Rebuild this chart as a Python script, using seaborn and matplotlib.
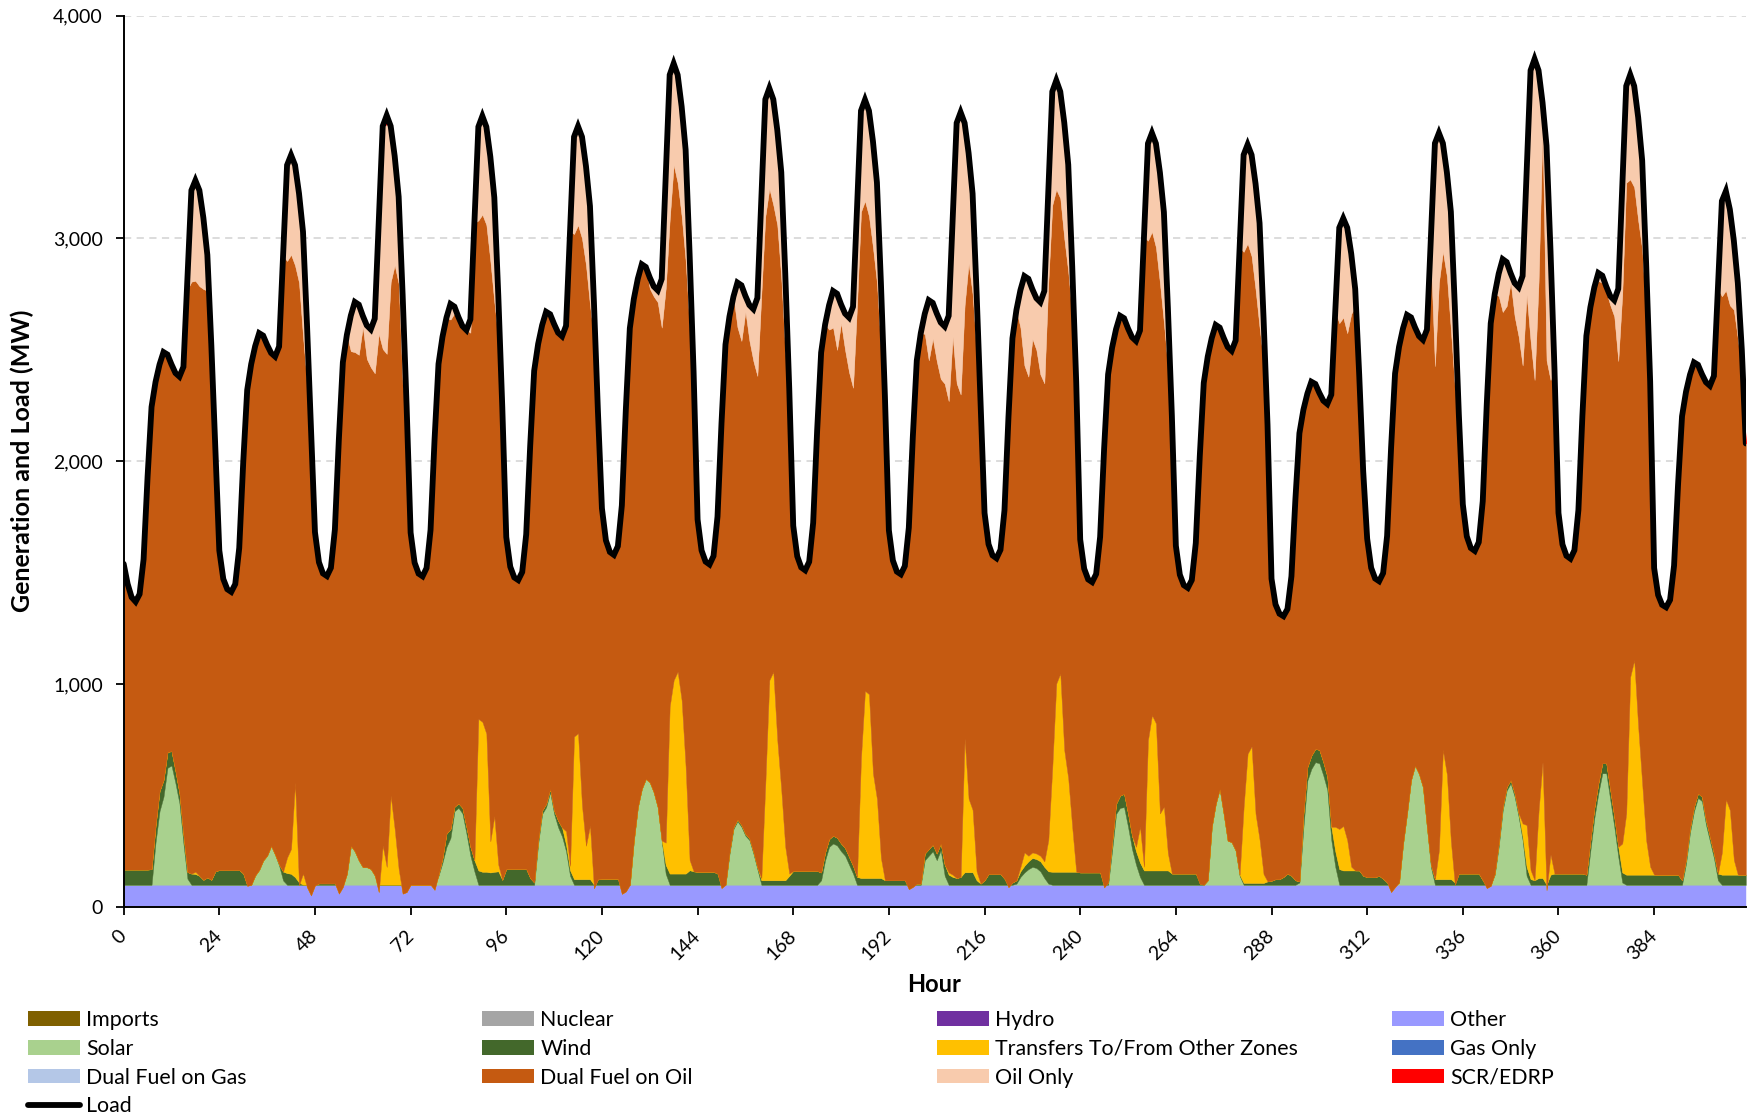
import numpy as np
import pandas as pd
import matplotlib
matplotlib.use("Agg")
import matplotlib.pyplot as plt
import seaborn as sns
from matplotlib.patches import Patch
from matplotlib.lines import Line2D
from matplotlib.ticker import FuncFormatter, MultipleLocator

# ---------------- data (MW, hourly) ----------------
load_by_day = [
    [1540,1450,1390,1370,1404,1560,1930,2244,2356,2434,2490,2479,2435,2396,2380,2424,2820,3216,3260,3216,3093,2926,2521,2063],
    [1600,1472,1426,1414,1449,1611,1995,2320,2436,2517,2575,2564,2522,2486,2470,2515,2922,3329,3374,3329,3202,3030,2615,2145],
    [1682,1547,1497,1485,1522,1694,2100,2444,2567,2654,2715,2703,2653,2610,2592,2640,3072,3504,3552,3504,3370,3187,2746,2246],
    [1680,1545,1496,1484,1521,1692,2095,2437,2559,2645,2706,2694,2647,2607,2589,2637,3069,3501,3549,3501,3367,3184,2743,2243],
    [1660,1527,1479,1467,1503,1672,2069,2406,2527,2611,2671,2660,2616,2577,2561,2608,3032,3456,3503,3456,3324,3145,2712,2222],
    [1789,1645,1593,1580,1619,1802,2232,2597,2728,2819,2884,2872,2825,2785,2767,2818,3276,3734,3785,3734,3592,3398,2930,2401],
    [1739,1600,1550,1537,1575,1752,2170,2524,2650,2739,2802,2790,2742,2701,2683,2733,3179,3624,3674,3624,3486,3297,2842,2326],
    [1711,1574,1524,1511,1549,1724,2138,2488,2614,2701,2764,2752,2704,2663,2645,2694,3134,3573,3622,3573,3436,3251,2801,2293],
    [1690,1555,1505,1493,1530,1702,2108,2452,2575,2662,2723,2711,2664,2623,2605,2653,3086,3518,3566,3518,3383,3201,2759,2259],
    [1768,1628,1578,1565,1603,1780,2198,2552,2679,2768,2831,2819,2772,2732,2714,2764,3212,3659,3709,3659,3520,3331,2873,2356],
    [1649,1518,1470,1458,1494,1661,2056,2390,2510,2593,2653,2642,2596,2557,2540,2587,3007,3426,3473,3426,3296,3118,2689,2204],
    [1621,1491,1444,1432,1467,1633,2022,2352,2470,2553,2612,2600,2554,2513,2496,2542,2959,3375,3421,3375,3245,3069,2644,2163],
    [1473,1358,1316,1305,1337,1484,1831,2126,2231,2304,2357,2347,2307,2272,2257,2299,2674,3048,3090,3048,2932,2773,2390,1957],
    [1653,1522,1474,1462,1498,1665,2060,2394,2514,2597,2657,2646,2601,2562,2545,2591,3009,3427,3473,3427,3297,3120,2693,2211],
    [1807,1663,1611,1598,1637,1821,2253,2619,2750,2842,2907,2894,2844,2800,2781,2832,3293,3754,3805,3754,3610,3416,2945,2412],
    [1768,1627,1576,1563,1601,1781,2204,2563,2691,2781,2845,2833,2784,2741,2723,2774,3229,3684,3735,3684,3543,3350,2885,2359],
    [1521,1400,1356,1345,1378,1532,1895,2202,2312,2389,2444,2433,2391,2355,2339,2383,2776,3168,3212,3130,2990,2800,2500,2080],
]

solar_by_day = [
    [0,0,0,0,0,0,0,0,190,330,395,525,535,455,365,185,27,0,0,0,0,0,0,0],
    [0,0,0,0,0,0,0,0,0,42,67,109,131,175,135,86,19,0,0,0,0,0,0,0],
    [0,0,0,0,0,0,0,0,49,175,150,109,79,79,71,42,0,0,0,0,0,0,0,0],
    [0,0,0,0,0,0,0,40,100,170,210,330,345,320,230,130,60,0,0,0,0,0,0,0],
    [0,0,0,0,0,0,0,0,184,318,348,415,318,258,216,150,40,0,0,0,0,0,0,0],
    [0,0,0,0,0,0,0,0,198,348,430,475,460,415,348,198,49,0,0,0,0,0,0,0],
    [0,0,0,0,0,0,0,0,138,250,285,260,220,200,140,70,0,0,0,0,0,0,0,0],
    [0,0,0,0,0,0,0,20,110,170,185,176,150,130,90,50,0,0,0,0,0,0,0,0],
    [0,0,0,0,0,0,0,0,0,110,130,150,110,155,40,0,0,0,0,0,0,0,0,0],
    [0,0,0,0,0,0,0,0,5,35,55,70,80,75,60,30,5,0,0,0,0,0,0,0],
    [0,0,0,0,0,0,0,0,154,318,345,348,260,160,90,35,0,0,0,0,0,0,0,0],
    [0,0,0,0,0,0,0,0,20,260,363,430,318,198,191,154,40,0,0,0,0,0,0,0],
    [0,0,0,0,0,0,0,10,258,468,520,550,545,490,425,200,80,0,0,0,0,0,0,0],
    [0,0,0,0,0,0,0,0,10,184,321,470,535,498,438,258,79,0,0,0,0,0,0,0],
    [0,0,0,0,0,0,0,0,45,170,333,423,455,395,305,200,40,0,0,0,0,0,0,0],
    [0,0,0,0,0,0,0,0,153,300,410,500,500,380,260,125,10,0,0,0,0,0,0,0],
    [0,0,0,0,0,0,0,0,95,235,330,390,375,270,195,120,20,0,0,0,0,0,0,0],
]

wind_by_day = [
    [68,68,68,68,68,68,68,70,75,90,75,70,65,55,45,40,30,50,48,40,22,33,22,60],
    [66,66,66,66,66,66,50,0,0,0,0,0,0,0,0,5,40,52,49,34,10,0,0,0],
    [0,6,6,6,6,6,0,0,0,0,0,0,0,0,0,0,0,0,0,0,0,0,0,0],
    [0,0,0,0,0,0,0,5,20,60,40,20,20,25,30,40,50,64,58,58,55,58,60,22],
    [71,71,71,71,71,71,30,10,15,15,15,15,15,30,40,30,25,25,25,25,25,25,0,25],
    [27,27,27,27,27,0,0,0,0,0,0,0,0,0,0,0,40,50,50,50,50,50,65,60],
    [58,58,58,58,58,50,0,0,8,8,8,8,8,8,8,8,20,20,20,20,20,20,20,40],
    [62,62,62,62,62,62,62,35,35,35,35,35,35,35,35,35,35,30,30,30,30,30,30,20],
    [20,20,20,20,20,0,0,5,5,30,30,30,30,30,50,45,35,30,35,56,56,56,20,5],
    [20,48,48,48,48,27,0,10,15,25,30,35,40,40,45,50,55,58,58,58,58,58,58,58],
    [55,55,55,55,55,55,0,10,35,45,55,60,60,60,60,64,64,64,64,64,64,64,64,50],
    [50,50,50,50,50,50,20,0,0,0,0,0,0,0,0,0,5,8,8,8,8,8,8,15],
    [18,25,25,35,50,40,20,5,60,60,60,60,60,60,60,60,70,70,64,64,64,64,64,40],
    [34,34,34,40,27,10,0,0,0,0,0,0,0,0,0,0,10,25,25,25,25,25,10,50],
    [50,50,50,50,50,20,0,0,5,15,15,15,15,15,15,15,40,25,20,30,30,0,45,50],
    [50,50,50,50,50,50,50,45,45,45,45,45,45,45,45,45,45,45,45,45,45,45,45,45],
    [45,45,45,45,45,45,45,20,20,20,20,20,20,20,20,20,30,45,45,45,45,45,45,45],
]

transfers_by_day = [
    [0,0,0,0,0,0,0,0,0,0,0,0,0,0,0,0,0,0,10,0,0,0,0,0],
    [0,0,0,0,0,0,0,-5,0,0,0,0,0,0,0,0,0,70,112,424,-12,50,-11,-48],
    [-3,0,0,0,0,0,-40,-10,0,0,0,0,0,0,0,0,-33,176,80,400,250,70,-40,-33],
    [0,0,0,0,0,0,-23,0,0,0,0,0,0,0,0,0,0,680,673,620,140,250,30,0],
    [0,0,0,0,0,0,0,0,0,0,0,0,0,0,0,60,20,640,655,330,150,240,-16,0],
    [0,0,0,0,0,-41,-30,0,0,0,0,0,0,0,0,0,100,750,868,906,778,480,46,0],
    [0,0,0,0,0,0,-15,0,0,0,0,0,0,0,0,0,10,435,898,936,629,405,150,10],
    [0,0,0,0,0,0,0,0,0,0,0,0,0,0,0,0,0,540,840,825,470,355,90,0],
    [0,0,0,0,0,-20,-10,0,0,0,0,0,0,0,0,10,10,0,0,600,330,280,40,0],
    [0,0,0,0,0,0,-11,0,0,20,60,25,25,25,25,25,140,470,845,890,546,419,200,0],
    [0,0,0,0,0,0,-12,0,0,0,0,0,0,0,20,161,17,585,697,660,256,286,77,0],
    [0,0,0,0,0,0,-16,0,0,0,0,0,0,0,0,0,0,340,580,613,310,195,40,0],
    [0,0,0,0,0,0,0,0,0,0,0,0,0,0,0,0,110,180,200,136,17,0,0,0],
    [0,0,0,0,0,0,-33,-10,0,0,0,0,0,0,0,0,0,0,130,580,470,170,-10,0],
    [0,0,0,0,0,0,-15,-5,0,0,0,0,0,0,0,60,188,41,0,300,520,-24,90,0],
    [0,0,0,0,0,0,0,0,0,0,0,0,0,0,0,0,130,275,888,963,664,410,155,36],
    [0,0,0,0,0,0,0,0,0,0,0,0,0,0,0,0,0,100,338,290,66,0,0,0],
]

oil_only_by_day = [
    [0,0,0,0,0,0,0,0,0,0,0,0,0,0,0,0,50,410,450,430,320,160,0,0],
    [0,0,0,0,0,0,0,0,0,0,0,0,0,0,0,0,0,430,447,450,400,470,265,0],
    [0,0,0,0,0,0,0,0,0,160,225,225,50,150,170,245,500,1000,1030,700,490,390,400,0],
    [0,0,0,0,0,0,0,0,0,0,70,30,0,0,0,60,0,420,442,440,467,470,190,0],
    [0,0,0,0,0,0,0,0,0,0,0,0,0,0,0,0,0,436,443,456,444,445,160,0],
    [0,0,0,0,0,0,0,0,0,0,0,0,50,45,53,218,500,650,455,484,492,498,330,0],
    [0,0,0,0,0,0,0,0,0,0,200,250,70,160,233,350,429,524,450,474,426,477,352,0],
    [0,0,0,0,0,0,0,0,0,110,164,252,84,163,245,364,434,453,454,473,476,451,301,0],
    [0,0,0,0,0,0,0,0,0,90,270,160,214,253,257,383,526,1168,1266,818,494,451,271,0],
    [0,0,0,0,0,0,0,0,0,168,401,439,222,232,324,414,410,509,489,479,520,481,223,0],
    [0,0,0,0,0,0,0,0,0,0,0,0,0,0,0,0,0,436,443,466,496,498,269,0],
    [0,0,0,0,0,0,0,0,0,0,0,0,0,0,0,0,0,435,444,455,475,469,200,0],
    [0,0,0,0,0,0,0,0,0,0,0,0,0,0,0,0,0,428,445,473,270,80,0,0],
    [0,0,0,0,0,0,0,0,0,0,0,0,0,0,0,0,100,1000,671,486,467,530,363,0],
    [0,0,0,0,0,0,0,0,0,100,237,197,42,150,221,402,543,1214,1440,952,110,963,580,0],
    [0,0,0,0,0,0,0,0,0,0,35,33,24,41,73,324,479,434,470,454,463,400,245,0],
    [0,0,0,0,0,0,0,0,0,0,0,0,0,0,0,0,0,428,445,430,310,250,100,0],
]

other_level = 100            # "Other" generation, flat
scr_hours = [66]             # SCR/EDRP dispatch
scr_values = [40]

series_names = ["Imports", "Nuclear", "Hydro", "Other", "Solar", "Wind",
                "Transfers To/From Other Zones", "Gas Only", "Dual Fuel on Gas",
                "Dual Fuel on Oil", "Oil Only", "SCR/EDRP"]
series_colors = ["#7F6000", "#A5A5A5", "#7030A0", "#9999FF", "#A9D18E", "#43682B",
                 "#FFC000", "#4472C4", "#B4C7E7", "#C55A11", "#F8CBAD", "#FF0000"]

xticks = list(range(0, 385, 24))

# ---------------- assemble ----------------
def flat(days):
    return [v for d in days for v in d]

load = np.array(flat(load_by_day), dtype=float)
n = len(load)
hours = np.arange(n)
solar = np.array(flat(solar_by_day), dtype=float)
wind = np.array(flat(wind_by_day), dtype=float)
transfers = np.array(flat(transfers_by_day), dtype=float)
oil_only = np.array(flat(oil_only_by_day), dtype=float)
other = np.full(n, float(other_level))
scr = np.zeros(n)
scr[scr_hours] = scr_values
zeros = np.zeros(n)
dual_oil = load - other - solar - wind - transfers - oil_only - scr

df = pd.DataFrame({
    "Hour": hours, "Imports": zeros, "Nuclear": zeros, "Hydro": zeros,
    "Other": other, "Solar": solar, "Wind": wind,
    "Transfers To/From Other Zones": transfers, "Gas Only": zeros,
    "Dual Fuel on Gas": zeros, "Dual Fuel on Oil": dual_oil,
    "Oil Only": oil_only, "SCR/EDRP": scr, "Load": load,
})

# ---------------- plot ----------------
sns.set_theme(style="white")
plt.rcParams['font.family'] = ['Lato', 'DejaVu Sans']

W, H = 1750, 1116
fig = plt.figure(figsize=(W / 100, H / 100), dpi=100)
x0, x1 = 123.65, 1745.8
y_top, y_bot = 15.6, 907.0
ax = fig.add_axes([x0 / W, 1 - y_bot / H, (x1 - x0) / W, (y_bot - y_top) / H])

base = np.zeros(n)
for name, col in zip(series_names, series_colors):
    vals = df[name].to_numpy()
    top = base + vals
    if np.any(vals != 0):
        ax.fill_between(df["Hour"], base, top, facecolor=col, edgecolor=col,
                        linewidth=0.3, zorder=2)
    base = top

sns.lineplot(data=df, x="Hour", y="Load", color="black", linewidth=4.2,
             ax=ax, legend=False, zorder=5, solid_joinstyle="miter")

ax.set_xlim(0, n - 1)
ax.set_ylim(0, 4000)
ax.set_xticks(xticks)
ax.set_xticklabels([str(t) for t in xticks], rotation=45, ha="right",
                   rotation_mode="anchor", va="center")
ax.yaxis.set_major_locator(MultipleLocator(1000))
ax.yaxis.set_major_formatter(FuncFormatter(lambda v, p: f"{int(v):,}"))
ax.set_xlabel("")
ax.set_ylabel("")

ax.set_axisbelow(True)
ax.yaxis.grid(True, color="#D9D9D9", linestyle=(0, (4, 3)), linewidth=1.3)
ax.xaxis.grid(False)
for s in ["top", "right"]:
    ax.spines[s].set_visible(False)
for s in ["left", "bottom"]:
    ax.spines[s].set_visible(True)
    ax.spines[s].set_color("black")
    ax.spines[s].set_linewidth(1.4)
    ax.spines[s].set_zorder(6)

ax.tick_params(axis="both", which="major", direction="out", length=6, width=1.3,
               color="black", labelsize=14, labelcolor="black")
ax.tick_params(axis="x", pad=13, bottom=True)
ax.tick_params(axis="y", pad=9, left=True)

fig.text(934 / W, 1 - 985 / H, "Hour", ha="center", va="center",
         fontsize=17, fontweight="bold", color="black")
fig.text(22 / W, 1 - 461 / H, "Generation and Load (MW)", ha="center",
         va="center", rotation=90, fontsize=18, fontweight="bold", color="black")

# ---------------- legend: 4 columns, Excel-like layout ----------------
color_of = dict(zip(series_names, series_colors))
def patch(name):
    return Patch(facecolor=color_of[name], edgecolor="none", label=name)

columns = [
    [patch("Imports"), patch("Solar"), patch("Dual Fuel on Gas"),
     Line2D([0], [0], color="black", lw=4.2, label="Load")],
    [patch("Nuclear"), patch("Wind"), patch("Dual Fuel on Oil")],
    [patch("Hydro"), patch("Transfers To/From Other Zones"), patch("Oil Only")],
    [patch("Other"), patch("Gas Only"), patch("SCR/EDRP")],
]
col_x = [28, 482, 937, 1392]
for cx, handles in zip(col_x, columns):
    leg = fig.legend(handles=handles, loc="upper left",
                     bbox_to_anchor=(cx / W, 1 - 1010 / H), frameon=False,
                     fontsize=15.4, handlelength=2.45, handleheight=0.68,
                     handletextpad=0.27, labelspacing=0.41, borderpad=0,
                     borderaxespad=0)
    for t in leg.get_texts():
        t.set_color("black")

fig.savefig("out.png", dpi=100)
